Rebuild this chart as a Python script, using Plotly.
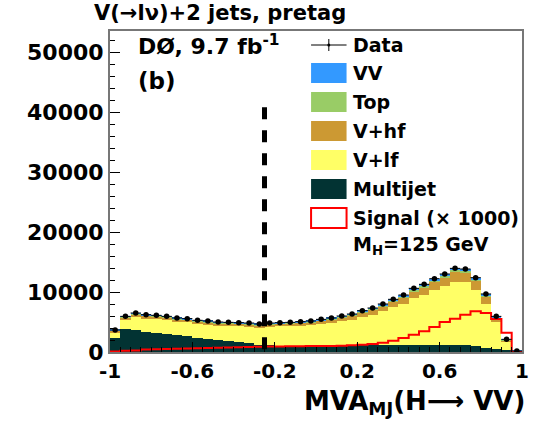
import numpy as np
import plotly.graph_objects as go

# ---------------- data (40 bins from -1 to 1) ----------------
bin_lo, bin_hi, n_bins = -1.0, 1.0, 40

data = [3670, 5940, 6500, 6220, 6110, 5940, 5670, 5560, 5280, 5170,
        5000, 4940, 4890, 4830, 4670, 4830, 4890, 4940, 5060, 5170,
        5440, 5670, 6000, 6330, 6890, 7330, 8000, 8780, 9500, 10610,
        11280, 12220, 13000, 13940, 13830, 12390, 9670, 5940, 2110, 170]

multijet = [2330, 3780, 3600, 3400, 3200, 3000, 2800, 2600, 2400, 2200,
            2000, 1820, 1650, 1450, 1250, 1100, 1050, 1050, 1050, 1050,
            1050, 1050, 1050, 1080, 1100, 1100, 1120, 1150, 1150, 1180,
            1200, 1200, 1220, 1220, 1150, 950, 750, 550, 320, 60]

v_lf = [940, 1530, 2200, 2140, 2250, 2290, 2230, 2330, 2260, 2360,
        2400, 2530, 2650, 2790, 2830, 3120, 3210, 3230, 3330, 3390,
        3630, 3810, 4080, 4320, 4780, 5140, 5690, 6340, 6930, 7870,
        8380, 9140, 9710, 10480, 10460, 9420, 7180, 4410, 1360, 60]

v_hf = [300, 450, 500, 480, 470, 460, 450, 440, 430, 420,
        410, 400, 400, 400, 400, 420, 430, 450, 470, 500,
        530, 560, 600, 640, 700, 760, 830, 900, 1000, 1100,
        1200, 1350, 1500, 1650, 1650, 1500, 1300, 700, 300, 30]

top = [60, 100, 110, 110, 100, 100, 100, 100, 100, 100,
       100, 100, 100, 100, 100, 100, 100, 110, 110, 120,
       120, 130, 140, 150, 160, 170, 180, 190, 200, 210,
       220, 230, 240, 240, 230, 210, 180, 120, 60, 10]

vv = [40, 80, 90, 90, 90, 90, 90, 90, 90, 90,
      90, 90, 90, 90, 90, 90, 100, 100, 100, 110,
      110, 120, 130, 140, 150, 160, 180, 200, 220, 250,
      280, 300, 330, 350, 340, 310, 260, 160, 70, 10]

signal_x1000 = [80, 200, 260, 420, 460, 500, 540, 580, 620, 660,
                700, 740, 780, 820, 870, 900, 920, 940, 960, 980,
                1000, 1020, 1050, 1110, 1220, 1330, 1560, 1890, 2330, 2890,
                3440, 4170, 5000, 5560, 6200, 6780, 6500, 5500, 3200, 0]

cut_value = -0.25
cut_line_top = 40800

x_tick_vals = [-1, -0.6, -0.2, 0.2, 0.6, 1]
x_tick_text = ["-1", "-0.6", "-0.2", "0.2", "0.6", "1"]
y_tick_vals = [0, 10000, 20000, 30000, 40000, 50000]
y_tick_text = ["0", "10000", "20000", "30000", "40000", "50000"]

colors = {"VV": "#3399ff", "Top": "#99cc66", "V+hf": "#cc9933",
          "V+lf": "#ffff66", "Multijet": "#023333", "Signal": "#ff0000"}

# ---------------- figure ----------------
edges = np.linspace(bin_lo, bin_hi, n_bins + 1)
centers = 0.5 * (edges[:-1] + edges[1:])
bw = edges[1] - edges[0]

fig = go.Figure()
for name, vals in [("Multijet", multijet), ("V+lf", v_lf), ("V+hf", v_hf),
                   ("Top", top), ("VV", vv)]:
    fig.add_trace(go.Bar(x=centers, y=vals, width=bw, name=name,
                         marker=dict(color=colors[name], line=dict(width=0)),
                         showlegend=False))

fig.add_trace(go.Scatter(x=edges, y=list(signal_x1000) + [signal_x1000[-1]],
                         mode="lines", line=dict(color=colors["Signal"], width=2, shape="hv"),
                         showlegend=False))

fig.add_trace(go.Scatter(x=[cut_value, cut_value], y=[cut_line_top, 0], mode="lines",
                         line=dict(color="black", width=5, dash="12px,11px"),
                         showlegend=False))

fig.add_trace(go.Scatter(x=centers, y=data, mode="markers",
                         marker=dict(color="black", size=5.5),
                         error_x=dict(type="constant", value=bw / 2, width=0,
                                      thickness=1, color="black"),
                         showlegend=False))

# ---------------- layout ----------------
W, H = 541, 421
L, R, T, B = 110, 13, 31, 69
pw, ph = W - L - R, H - T - B

def px(xp):
    return (xp - L) / pw

def py(yp):
    return (H - B - yp) / ph

font_fam = "DejaVu Sans"
fig.update_layout(
    width=W, height=H, margin=dict(l=L, r=R, t=T, b=B),
    paper_bgcolor="white", plot_bgcolor="white",
    barmode="stack", bargap=0,
    font=dict(family=font_fam, color="black", size=16, weight=700),
    showlegend=False,
)
fig.update_xaxes(range=[bin_lo, bin_hi], tickvals=x_tick_vals, ticktext=x_tick_text,
                 ticks="inside", ticklen=10, tickcolor="black", tickwidth=1,
                 minor=dict(ticks="inside", dtick=0.05, ticklen=5, tickcolor="black"),
                 showline=True, linecolor="#777777", linewidth=2, mirror=True,
                 showgrid=False, zeroline=False,
                 tickfont=dict(size=20, family=font_fam, weight=700))
fig.update_yaxes(range=[0, 53500], tickvals=y_tick_vals, ticktext=y_tick_text,
                 ticks="inside", ticklen=10, tickcolor="black", tickwidth=1,
                 minor=dict(ticks="inside", dtick=2000, ticklen=5, tickcolor="black"),
                 showline=True, linecolor="#777777", linewidth=2, mirror=True,
                 showgrid=False, zeroline=False,
                 tickfont=dict(size=22, family=font_fam, weight=700))

ann = []
ann.append(dict(text="V(→lν)+2 jets, pretag", x=px(222), y=py(13), xref="paper", yref="paper",
                xanchor="center", yanchor="middle", showarrow=False,
                font=dict(size=21, family=font_fam, weight=700)))
ann.append(dict(text="DØ, 9.7 fb<sup>-1</sup>", x=px(136), y=py(45), xref="paper", yref="paper",
                xanchor="left", yanchor="middle", showarrow=False,
                font=dict(size=22, family=font_fam, weight=700)))
ann.append(dict(text="(b)", x=px(136), y=py(81), xref="paper", yref="paper",
                xanchor="left", yanchor="middle", showarrow=False,
                font=dict(size=23, family=font_fam, weight=700)))
ann.append(dict(text="MVA<sub>MJ</sub>(H⟶ VV)", x=px(533), y=py(402), xref="paper", yref="paper",
                xanchor="right", yanchor="middle", showarrow=False,
                font=dict(size=26, family=font_fam, weight=700)))

# manual legend
leg_x0, leg_x1, leg_text_x = 314, 350, 355
leg_rows = [("Data", 45), ("VV", 73), ("Top", 102), ("V+hf", 131), ("V+lf", 160),
            ("Multijet", 189), ("Signal (× 1000)", 218), ("M<sub>H</sub>=125 GeV", 245)]
shapes = []
for label, yc in leg_rows:
    ann.append(dict(text=label, x=px(leg_text_x), y=py(yc), xref="paper", yref="paper",
                    xanchor="left", yanchor="middle", showarrow=False,
                    font=dict(size=19, family=font_fam, weight=700)))
    if label in colors:
        shapes.append(dict(type="rect", xref="paper", yref="paper",
                           x0=px(leg_x0), x1=px(leg_x1), y0=py(yc + 10), y1=py(yc - 10),
                           fillcolor=colors[label], line=dict(width=0)))
    elif label.startswith("Signal"):
        shapes.append(dict(type="rect", xref="paper", yref="paper",
                           x0=px(leg_x0), x1=px(leg_x1), y0=py(yc + 10), y1=py(yc - 10),
                           fillcolor="white", line=dict(color="red", width=2)))
    elif label == "Data":
        shapes.append(dict(type="line", xref="paper", yref="paper",
                           x0=px(leg_x0), x1=px(leg_x1), y0=py(yc), y1=py(yc),
                           line=dict(color="black", width=1)))
        shapes.append(dict(type="line", xref="paper", yref="paper",
                           x0=px(332), x1=px(332), y0=py(yc - 6), y1=py(yc + 6),
                           line=dict(color="black", width=1)))
        shapes.append(dict(type="circle", xref="paper", yref="paper",
                           x0=px(330.5), x1=px(333.5), y0=py(yc + 1.5), y1=py(yc - 1.5),
                           fillcolor="black", line=dict(color="black", width=0)))

fig.update_layout(annotations=ann, shapes=shapes)
fig.write_html("out.html")
